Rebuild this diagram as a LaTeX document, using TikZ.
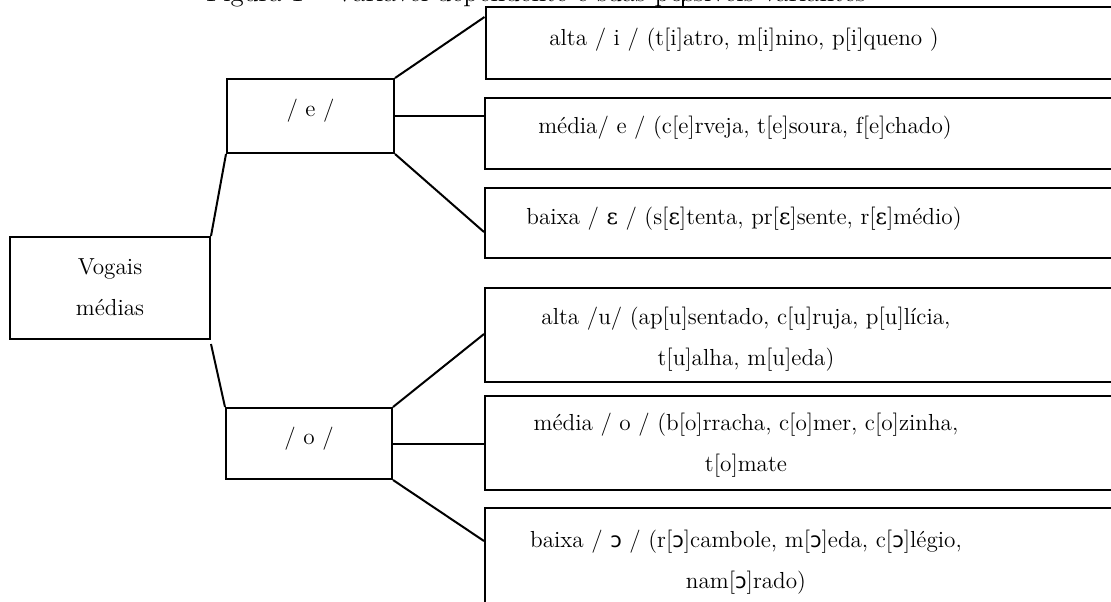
\documentclass[tikz,border=0pt]{standalone}
\usepackage{fontspec}
\newfontfamily\ipasans{DejaVu Sans}
\newfontfamily\ipaserif{DejaVu Serif}
\newcommand{\opo}{{\ipasans\fontsize{10.5}{10.5}\selectfont ɔ}}
\newcommand{\opE}{{\ipaserif\fontsize{11}{11}\selectfont ɛ}}
\usetikzlibrary{calc}
\begin{document}
\begin{tikzpicture}[x=0.5pt,y=-0.5pt,
  box/.style={draw,line width=1pt,rectangle,inner sep=0pt},
  wide/.style={box,minimum width=322.5pt},
  txt/.style={align=center,inner sep=0pt,font=\fontsize{11.6}{20.3}\selectfont},
  link/.style={line width=1pt}]
\useasboundingbox (0,0) rectangle (1111,601);
\clip (0,0) rectangle (1111,601);

% caption of the figure, mostly above the page edge
\node[anchor=base west,inner sep=0pt,outer sep=0pt,font=\fontsize{13.5}{13.5}\selectfont] (cap) at (206,1.5)
  {Figura 1 -- Variável dependente e suas possíveis variantes};

% root and the two phonemes
\node[box,minimum width=100pt,minimum height=51pt] (v) at (110,288) {};
\node[txt] (tv) at (110,287) {Vogais\\médias};
\node[box,minimum width=83.5pt,minimum height=37pt] (e) at (310.5,116) {};
\node[txt] (te) at (310.5,111) {/ e /};
\node[box,minimum width=83pt,minimum height=35.5pt] (o) at (309,443.5) {};
\node[txt] (to) at (309,439) {/ o /};

% realisations of /e/
\node[wide,minimum height=36pt] (a1) at (808,43) {};
\node[txt] (ta1) at (744,40) {alta / i / (t[i]atro, m[i]nino, p[i]queno )};
\node[wide,minimum height=35.5pt] (a2) at (807.5,133.5) {};
\node[txt] (ta2) at (745,128) {média/ e / (c[e]rveja, t[e]soura, f[e]chado)};
\node[wide,minimum height=35pt] (a3) at (807.5,223) {};
\node[txt] (ta3) at (744,219) {baixa / \opE{} / (s[\opE]tenta, pr[\opE]sente, r[\opE]médio)};

% realisations of /o/
\node[wide,minimum height=47pt] (b1) at (807.5,335) {};
\node[txt] (tb1) at (746,339) {alta /u/ (ap[u]sentado, c[u]ruja, p[u]lícia,\\t[u]alha, m[u]eda)};
\node[wide,minimum height=47pt] (b2) at (807.5,443) {};
\node[txt] (tb2) at (746,445) {média / o / (b[o]rracha, c[o]mer, c[o]zinha,\\t[o]mate};
\node[wide,minimum height=66pt] (b3) at (807.5,574) {};
\node[txt] (tb3) at (746,562) {baixa / \opo{} / (r[\opo]cambole, m[\opo]eda, c[\opo]légio,\\nam[\opo]rado)};

% rule of the page above the first box
\draw[line width=0.6pt] (683,0) -- (683,0 |- a1.north);

% connectors
\draw[link] (v.north east) -- (e.south west);
\draw[link] ([yshift=-2pt]v.south east) -- (o.north west);
\draw[link] (e.north east) -- ([yshift=-5.5pt]a1.north west);
\draw[link] (e.east) -- (e.east -| a2.west);
\draw[link] (e.south east) -- ([yshift=-22.5pt]a3.north west);
\draw[link] (o.north east) -- ([yshift=-23.5pt]b1.north west);
\draw[link] (o.east) -- (o.east -| b2.west);
\draw[link] (o.south east) -- ([yshift=-17pt]b3.north west);
\end{tikzpicture}
\end{document}
